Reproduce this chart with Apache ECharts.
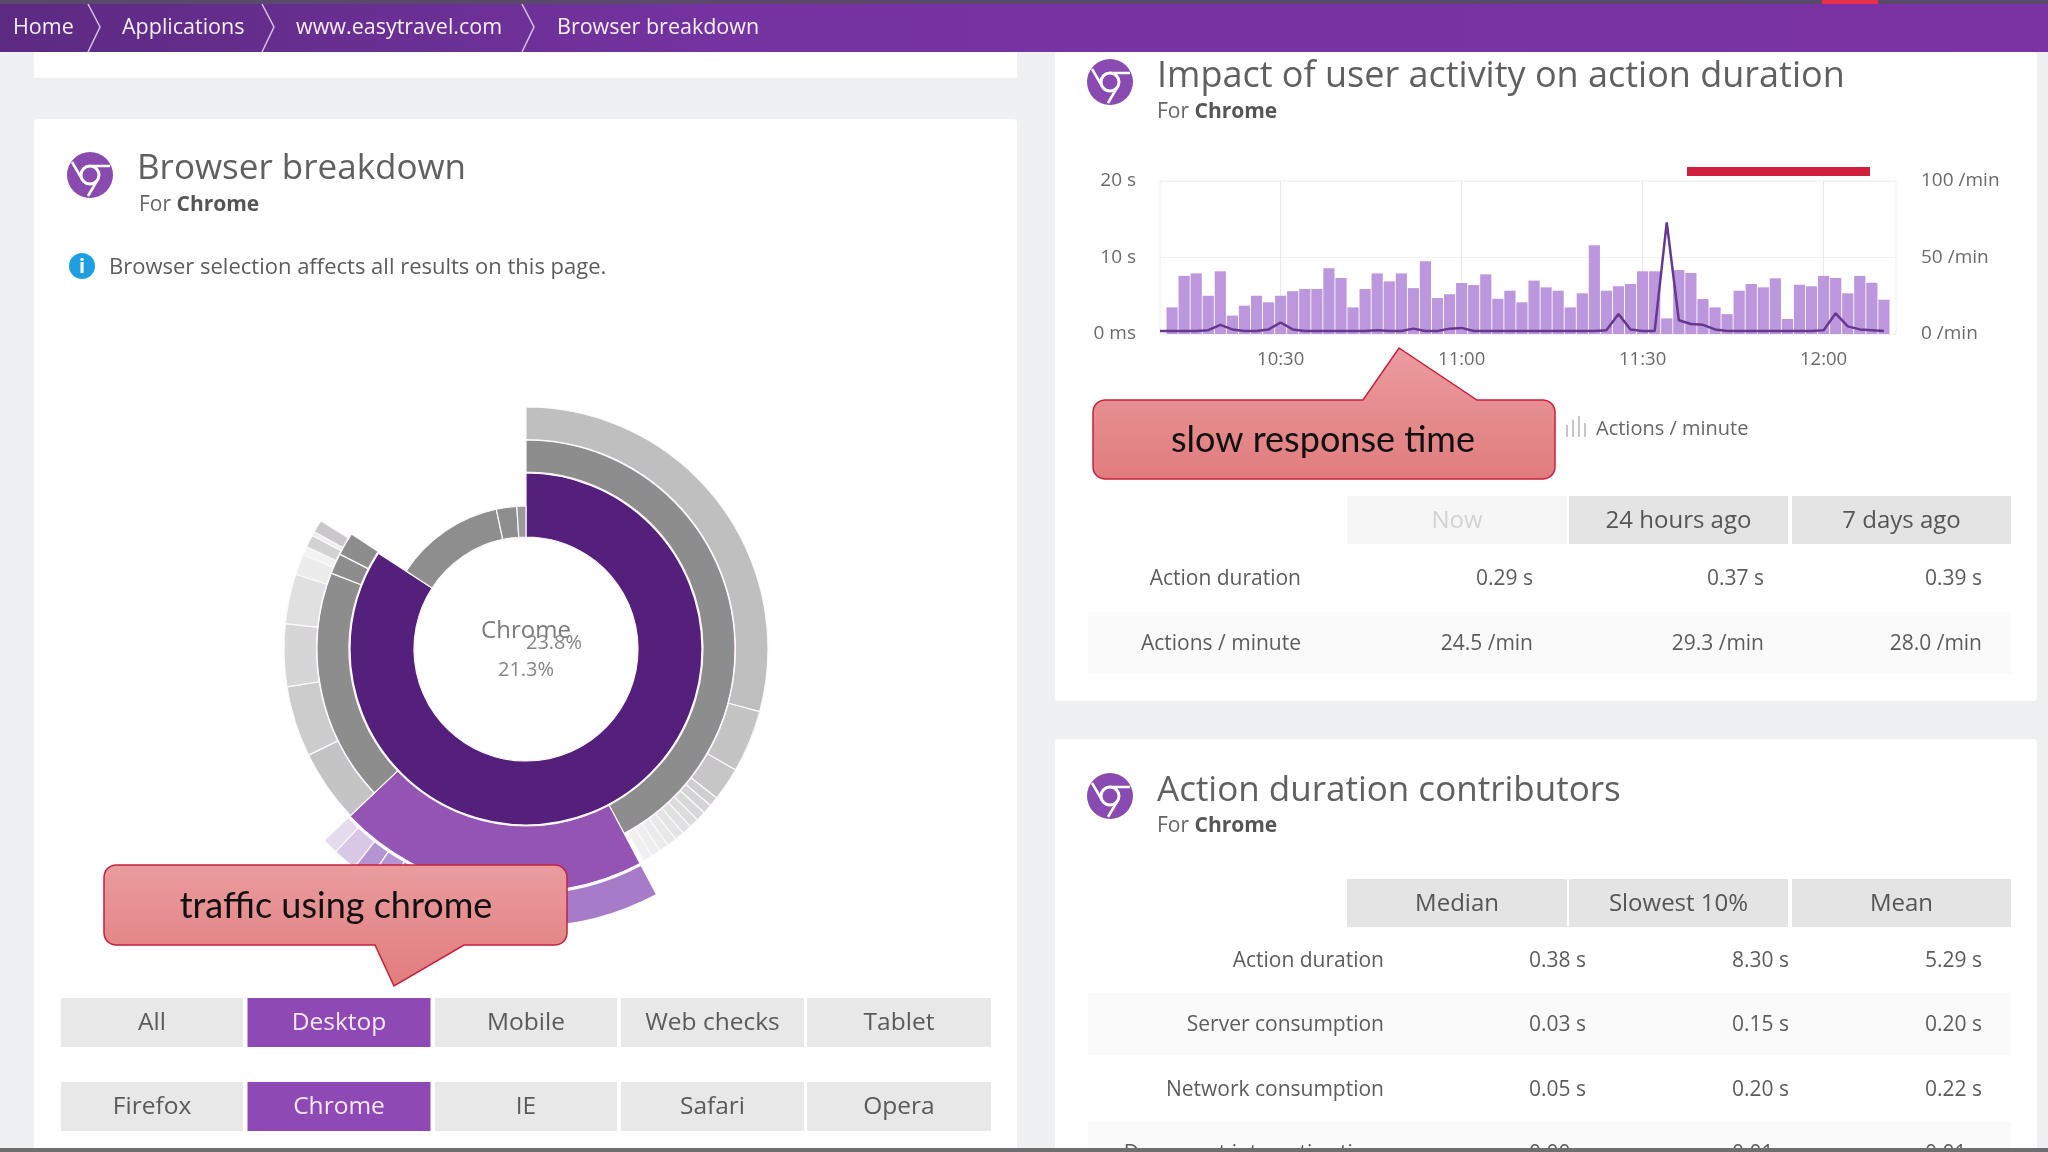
<!DOCTYPE html>
<html lang="en">
<head>
<meta charset="UTF-8">
<title>Browser breakdown</title>
<style>
  html, body { margin: 0; padding: 0; overflow: hidden; background: #eff0f1; }
  #chart { width: 2048px; height: 1152px; filter: blur(0.5px); }
</style>
</head>
<body>
<div id="chart"></div>
<script src="https://cdn.jsdelivr.net/npm/echarts@6/dist/echarts.min.js"></script>
<script>
// time chart data
var timeLabels = ['10:10','10:12','10:14','10:16','10:18','10:20','10:22','10:24','10:26','10:28','10:30','10:32','10:34','10:36','10:38','10:40','10:42','10:44','10:46','10:48','10:50','10:52','10:54','10:56','10:58','11:00','11:02','11:04','11:06','11:08','11:10','11:12','11:14','11:16','11:18','11:20','11:22','11:24','11:26','11:28','11:30','11:32','11:34','11:36','11:38','11:40','11:42','11:44','11:46','11:48','11:50','11:52','11:54','11:56','11:58','12:00','12:02','12:04','12:06','12:08','12:10','12:12'];
var shownTimes = ['10:30','11:00','11:30','12:00'];
var actionsPerMinute = [null,17.4,38,39.6,25,41,12,18.5,25,20.7,25,28,29.4,29.4,43,36.6,17.4,29.4,39.6,34.4,39.6,30,47.5,23.5,26,33.3,32,39,23,28.3,20.7,34.9,30.5,28.3,17.4,26.6,58,28.3,31.2,32.7,41,41,10.2,41.8,39.9,22.9,17.4,13,28.3,32.7,30.5,36.4,9.8,32.2,31.2,38,36.6,26.6,37.9,33.5,22.4,null];
var actionDuration = [0.4,0.4,0.4,0.4,0.5,1.2,0.6,0.4,0.4,0.6,1.5,0.6,0.4,0.4,0.4,0.4,0.4,0.4,0.5,0.4,0.4,0.7,0.4,0.4,0.7,0.8,0.4,0.4,0.4,0.4,0.4,0.4,0.4,0.4,0.4,0.4,0.4,0.5,2.6,0.6,0.4,0.4,14.6,1.8,1.3,1.2,0.6,0.4,0.4,0.4,0.4,0.4,0.4,0.4,0.4,0.5,2.7,1,0.6,0.5,0.4,null];

// sunburst rings, in degrees of the circle
var chromeInner = [303];
var otherInner = [45, 8.3, 3.7];
var chromeMiddleA = [152];
var desktopMiddle = [74.5];
var chromeMiddleB = [64.8, 5.7, 6.4];
var chromeOuterA = [105, 15, 8, 2.3, 2.3, 2.3, 2.3, 2.3, 2.3, 2.3, 2.3, 2.3, 2.3];
var chromeOuterB = [17.5, 17, 15, 12, 5, 2, 3, 1, 3];
var desktopOuter = [54, 3.8, 4.4, 4, 5, 3.3];

// tables
var nowHeaders = ['Now', '24 hours ago', '7 days ago'];
var nowRows = [
  ['Action duration', '0.29 s', '0.37 s', '0.39 s'],
  ['Actions / minute', '24.5 /min', '29.3 /min', '28.0 /min']
];
var contributorHeaders = ['Median', 'Slowest 10%', 'Mean'];
var contributorRows = [
  ['Action duration', '0.38 s', '8.30 s', '5.29 s'],
  ['Server consumption', '0.03 s', '0.15 s', '0.20 s'],
  ['Network consumption', '0.05 s', '0.20 s', '0.22 s'],
  ['Document interactive time', '0.00 s', '0.01 s', '0.01 s']
];
var crumbs = ['Home', 'Applications', 'www.easytravel.com', 'Browser breakdown'];
var deviceButtons = ['All', 'Desktop', 'Mobile', 'Web checks', 'Tablet'];
var browserButtons = ['Firefox', 'Chrome', 'IE', 'Safari', 'Opera'];

var FONT = 'Open Sans';
var CX = 526, CY = 649;

function sum(a) { return a.reduce(function (p, c) { return p + c; }, 0); }

function ring(values, colors, from, rIn, rOut) {
  return {
    type: 'pie', silent: true, animation: false, clockwise: true,
    center: [CX, CY], radius: [rIn, rOut],
    startAngle: 90 - from, endAngle: 90 - from - sum(values),
    label: { show: false }, labelLine: { show: false }, emphasis: { disabled: true },
    itemStyle: { borderColor: '#fdf8ff', borderWidth: 1.2 },
    data: values.map(function (v, i) { return { value: v, itemStyle: { color: colors[i] } }; })
  };
}

var g = [];
function rect(x, y, w, h, fill, z, r) {
  g.push({ type: 'rect', z: z || -5, silent: true, shape: { x: x, y: y, width: w, height: h, r: r || 0 }, style: { fill: fill } });
}
function text(x, y, s, size, color, align, z, weight) {
  g.push({ type: 'text', z: z || 5, silent: true, x: x, y: y + 1, style: {
    text: s, font: (weight || 'normal') + ' ' + size + 'px "' + FONT + '"', fill: color,
    textAlign: align || 'left', textVerticalAlign: 'middle' } });
}
function forChrome(x, y) {
  g.push({ type: 'text', z: 5, silent: true, x: x, y: y + 1, style: {
    text: '{a|For }{b|Chrome}', textVerticalAlign: 'middle',
    rich: { a: { font: '21px "' + FONT + '"', fill: '#666', color: '#666' }, b: { font: 'bold 21px "' + FONT + '"', fill: '#555', color: '#555' } } } });
}
function chromeIcon(x, y) {
  g.push({ type: 'circle', z: 5, silent: true, shape: { cx: x, cy: y, r: 23 }, style: { fill: '#8a4bb0' } });
  [[0, -9, 20, -9], [-8, 4, -18, -13], [8, 4, -2, 21]].forEach(function (l) {
    g.push({ type: 'line', z: 6, silent: true, shape: { x1: x + l[0], y1: y + l[1], x2: x + l[2], y2: y + l[3] }, style: { stroke: '#fff', lineWidth: 2.5 } });
  });
  g.push({ type: 'circle', z: 7, silent: true, shape: { cx: x, cy: y, r: 9 }, style: { fill: '#8a4bb0', stroke: '#fff', lineWidth: 3 } });
}
// rounded box with a pointer on one long side, as one outline
function callout(x, y, w, h, r, tip, label, tx, ty) {
  var pts = [];
  function arc(cx, cy, a0) {
    for (var k = 0; k <= 6; k++) {
      var a = (a0 + k * 15) * Math.PI / 180;
      pts.push([cx + r * Math.cos(a), cy + r * Math.sin(a)]);
    }
  }
  arc(x + r, y + r, 180);
  if (tip.side === 'top') { pts.push([tip.a, y], [tip.x, tip.y], [tip.b, y]); }
  arc(x + w - r, y + r, 270);
  arc(x + w - r, y + h - r, 0);
  if (tip.side === 'bottom') { pts.push([tip.b, y + h], [tip.x, tip.y], [tip.a, y + h]); }
  arc(x + r, y + h - r, 90);
  g.push({ type: 'polygon', z: 50, silent: true, shape: { points: pts }, style: {
    fill: new echarts.graphic.LinearGradient(0, 0, 0, 1, [{ offset: 0, color: '#ea9c9e' }, { offset: 1, color: '#e17c7e' }]),
    stroke: '#c5203c', lineWidth: 1.5 } });
  g.push({ type: 'text', z: 51, silent: true, x: tx, y: ty, style: {
    text: label, font: '36px "Lato"', fill: '#111', textAlign: 'center', textVerticalAlign: 'middle' } });
}

// page chrome
rect(34, 52, 983, 26, '#ffffff');
rect(34, 119, 983, 1040, '#ffffff', -5, 4);
rect(1055, 52, 982, 649, '#ffffff', -5, 4);
rect(1055, 739, 982, 420, '#ffffff', -5, 4);

g.push({ type: 'rect', z: 20, silent: true, shape: { x: 0, y: 0, width: 2048, height: 52 }, style: {
  fill: new echarts.graphic.LinearGradient(0, 0, 1, 0, [{ offset: 0, color: '#5c2a82' }, { offset: 0.35, color: '#7433a0' }, { offset: 1, color: '#7c33a4' }]) } });
rect(0, 0, 2048, 4, '#59496a', 21);
rect(1822, 0, 56, 4, '#e8304a', 22);
var crumbX = [13, 122, 296, 557];
crumbs.forEach(function (c, i) { text(crumbX[i], 27, c, 21.5, '#f6eefa', 'left', 22); });
[88, 262, 522].forEach(function (x) {
  g.push({ type: 'polyline', z: 22, silent: true, shape: { points: [[x, 4], [x + 12, 27], [x, 52]] }, style: { stroke: '#d9c2e8', lineWidth: 1.5, fill: null } });
});

// left card
chromeIcon(90, 175);
text(137, 168, 'Browser breakdown', 35, '#5f6062');
forChrome(139, 204);
g.push({ type: 'circle', z: 5, silent: true, shape: { cx: 82, cy: 266, r: 13 }, style: { fill: '#1f9fe2' } });
g.push({ type: 'text', z: 6, silent: true, x: 82, y: 267, style: { text: 'i', font: 'bold 20px "' + FONT + '"', fill: '#fff', textAlign: 'center', textVerticalAlign: 'middle' } });
text(109, 267, 'Browser selection affects all results on this page.', 22, '#5c5c5c');

text(CX, 630, 'Chrome', 24, '#7b7b7b', 'center');
text(554, 642, '23.8%', 20, '#858585', 'center');
text(CX, 669, '21.3%', 20, '#858585', 'center');

var btnX = [[61, 182], [247.5, 183], [435, 182], [621, 183], [807, 184]];
function buttons(list, y, h) {
  list.forEach(function (b, i) {
    var on = i === 1;
    rect(btnX[i][0], y, btnX[i][1], h, on ? '#8e49b5' : '#e8e8e8', 2);
    text(btnX[i][0] + btnX[i][1] / 2, y + h / 2, b, 24.5, on ? '#f8e8ff' : '#5a5a5a', 'center', 3);
  });
}
buttons(deviceButtons, 998, 49);
buttons(browserButtons, 1082, 49);

// right cards
chromeIcon(1110, 82);
text(1157, 76, 'Impact of user activity on action duration', 36, '#5f6062');
forChrome(1157, 111);

rect(1687, 167, 183, 9, '#cf1f3c', 5);
[0, 6, 12, 18].forEach(function (dx, i) {
  rect(1566 + dx, 428 - [3, 8, 12, 5][i], 2, [3, 8, 12, 5][i] + 9, '#c8c3cf', 5);
});
text(1596, 428, 'Actions / minute', 20, '#666');

var headX = [[1347, 220], [1569, 219], [1792, 219]];
var valueRight1 = [1533, 1764, 1982];
var valueRight2 = [1586, 1789, 1982];
function headers(list, y, dimFirst) {
  list.forEach(function (h, i) {
    var dim = dimFirst && i === 0;
    rect(headX[i][0], y, headX[i][1], 48, dim ? '#f6f6f6' : '#e4e4e4', 2);
    text(headX[i][0] + headX[i][1] / 2, y + 24, h, 24, dim ? '#d3d3d3' : '#555', 'center', 3);
  });
}
function rows(list, ys, labelRight, right) {
  list.forEach(function (row, r) {
    if (r % 2 === 1) { rect(1088, ys[r] - 31, 923, 62, '#fafafb', 1); }
    text(labelRight, ys[r], row[0], 21, '#5c5c5c', 'right');
    row.slice(1).forEach(function (v, c) { text(right[c], ys[r], v, 21, '#5c5c5c', 'right'); });
  });
}
headers(nowHeaders, 496, true);
rows(nowRows, [578, 643], 1301, valueRight1);

chromeIcon(1110, 796);
text(1157, 790, 'Action duration contributors', 35, '#5f6062');
forChrome(1157, 825);
headers(contributorHeaders, 879, false);
rows(contributorRows, [960, 1024, 1089, 1153], 1384, valueRight2);

// bottom edge
rect(0, 1148, 2048, 4, '#6e6e6e', 40);

callout(1093, 400, 462, 79, 12, { side: 'top', a: 1363, x: 1399, y: 348, b: 1477 }, 'slow response time', 1323, 440);
callout(104, 865, 463, 80, 12, { side: 'bottom', a: 375, x: 394, y: 986, b: 464 }, 'traffic using chrome', 336, 906);

var greyOuterColors = ['#bfbfbf', '#c4c4c4', '#c6c6c6', '#cfcfcf', '#d4d4d4', '#d8d8d8', '#dcdcdc', '#e0e0e0', '#e4e4e4', '#e8e8e8', '#ebebeb', '#eeeeee', '#f0f0f0'];
var greyOuterColorsB = ['#c4c4c4', '#cccccc', '#d6d6d6', '#e0e0e0', '#ececec', '#f2f2f2', '#d2d2d2', '#eeeeee', '#c8c8c8'];
var purpleOuterColors = ['#a67bc8', '#b594d3', '#b594d3', '#b594d3', '#d8c8e6', '#e4dcec'];

var series = [
  ring(chromeInner, ['#54207c'], 0, 112, 176),
  ring(otherInner, ['#8e8e8e', '#8e8e8e', '#9a9a9a'], 303, 112, 143),
  ring(chromeMiddleA, ['#8d8d8d'], 0, 177, 209),
  ring(desktopMiddle, ['#9354b4'], 152, 177, 243),
  ring(chromeMiddleB, ['#8d8d8d', '#8d8d8d', '#8d8d8d'], 226.5, 177, 209),
  ring(chromeOuterA, greyOuterColors, 0, 209.5, 242),
  ring(chromeOuterB, greyOuterColorsB, 226.5, 209.5, 242),
  ring(desktopOuter, purpleOuterColors, 152, 245, 278),
  {
    name: 'Actions / minute', type: 'bar', silent: true, animation: false,
    xAxisIndex: 0, yAxisIndex: 1, barWidth: 11.2, data: actionsPerMinute,
    itemStyle: { color: '#bd97de' }
  },
  {
    name: 'Action duration', type: 'line', silent: true, animation: false, z: 5,
    xAxisIndex: 0, yAxisIndex: 0, showSymbol: false, connectNulls: false, data: actionDuration,
    lineStyle: { color: '#66388f', width: 2.5 }
  }
];

var axisLabel = { color: '#6a6a6a', fontFamily: FONT, fontSize: 19 };

var myChart = echarts.init(document.getElementById('chart'), null, { renderer: 'canvas' });
myChart.setOption({
  animation: false,
  backgroundColor: '#eff0f1',
  grid: { show: true, left: 1160, right: 2048 - 1896, top: 181, bottom: 1152 - 334, borderColor: '#eeeeee', borderWidth: 1, backgroundColor: 'transparent' },
  xAxis: {
    type: 'category', boundaryGap: false, data: timeLabels,
    axisLine: { show: false }, axisTick: { show: false },
    axisLabel: Object.assign({}, axisLabel, { fontSize: 18.5, margin: 16, interval: function (i, v) { return shownTimes.indexOf(v) >= 0; } }),
    splitLine: { show: true, lineStyle: { color: '#e8e8e8' }, interval: function (i, v) { return shownTimes.indexOf(v) >= 0; } }
  },
  yAxis: [
    {
      type: 'value', min: 0, max: 20, interval: 10, position: 'left',
      axisLine: { show: false }, axisTick: { show: false },
      axisLabel: Object.assign({}, axisLabel, { margin: 24, padding: [3, 0, 0, 0], formatter: function (v) { return v === 0 ? '0 ms' : v + ' s'; } }),
      splitLine: { lineStyle: { color: '#f2f2f2' } }
    },
    {
      type: 'value', min: 0, max: 100, interval: 50, position: 'right',
      axisLine: { show: false }, axisTick: { show: false },
      axisLabel: Object.assign({}, axisLabel, { margin: 25, padding: [3, 0, 0, 0], formatter: '{value} /min' }),
      splitLine: { show: false }
    }
  ],
  series: series,
  graphic: { elements: g }
});
</script>
</body>
</html>
